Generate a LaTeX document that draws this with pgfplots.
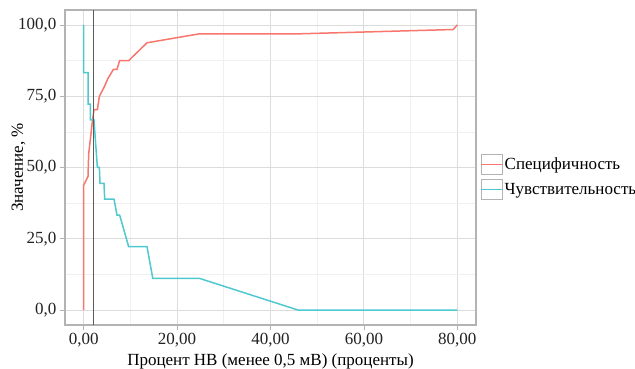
\documentclass[border=0pt]{standalone}
\usepackage{pgfplots}
\pgfplotsset{compat=1.18}
\usepackage{fontspec}
\setmainfont{Liberation Serif}
\definecolor{specc}{HTML}{F8766D}
\definecolor{sensc}{HTML}{4FC8D0}
\definecolor{gridmaj}{HTML}{DCDCDC}
\definecolor{gridmin}{HTML}{F0F0F0}
\definecolor{bordc}{HTML}{B3B3B3}
\definecolor{vlc}{HTML}{5A5A5A}
\definecolor{tickc}{HTML}{222222}
\begin{document}
\begin{tikzpicture}[font=\fontsize{17bp}{20bp}\selectfont]
\path[use as bounding box] (-65bp,-44bp) rectangle (570bp,325bp);
\begin{axis}[
  at={(0,0)}, anchor=south west,
  scale only axis, width=411bp, height=315bp,
  xmin=-4, xmax=84, ymin=-5.25, ymax=105.25,
  axis line style={draw=bordc, line width=1.3bp},
  xtick={0,20,40,60,80}, minor xtick={10,30,50,70},
  ytick={0,25,50,75,100}, minor ytick={12.5,37.5,62.5,87.5},
  xtick pos=bottom, ytick pos=left,
  grid=both,
  major grid style={draw=gridmaj, line width=0.9bp},
  minor grid style={draw=gridmin, line width=0.6bp},
  tick align=outside, major tick length=5bp, minor tick length=0pt,
  tick style={draw=bordc, line width=0.8bp},
  xticklabel style={/pgf/number format/.cd, fixed, fixed zerofill, precision=2, use comma, assume math mode=true},
  yticklabel style={/pgf/number format/.cd, fixed, fixed zerofill, precision=1, use comma, assume math mode=true},
  ticklabel style={text=tickc},
  xlabel={Процент НВ (менее 0,5 мВ) (проценты)},
  ylabel={Значение, \%},
  xlabel style={yshift=1bp},
  ylabel style={yshift=-14bp},
  legend style={at={(rel axis cs:1,0.47)}, anchor=west, draw=none, fill=none, xshift=1bp,
    row sep=4bp, /tikz/every even column/.append style={column sep=2bp}},
  legend cell align=left,
  legend image code/.code={
    \draw[bordc, fill=white, line width=0.7bp] (0bp,-10bp) rectangle (21bp,10bp);
    \draw[#1] (0bp,0bp) -- (21bp,0bp);
  },
]
\addplot[specc, line width=1.5bp] coordinates {
 (0,0) (0,43.8) (0.93,46.9) (1.07,54.7) (1.78,65.0) (2.2,70.3) (2.93,70.3)
 (3.36,75.0) (4.35,78.1) (5.2,81.25) (6.36,84.4) (7.13,84.4) (7.7,87.5)
 (9.64,87.5) (13.56,93.75) (24.8,96.9) (46.3,96.9) (79.1,98.4) (80,100)
};
\addlegendentry{Специфичность}
\addplot[sensc, line width=1.5bp] coordinates {
 (0,100) (0,83.3) (0.93,83.3) (0.93,72.2) (1.43,72.2) (1.43,66.7) (2.2,66.7)
 (2.93,50) (3.36,50) (3.5,44.4) (4.35,44.4) (4.5,38.9) (6.5,38.9) (7.13,33.3)
 (7.7,33.3) (9.64,22.2) (13.56,22.2) (14.8,11.1) (24.8,11.1) (45.9,0) (80,0)
};
\addlegendentry{Чувствительность}
\addplot[vlc, line width=1bp, forget plot] coordinates {(2.2,-5.25) (2.2,105.25)};
\end{axis}
\end{tikzpicture}
\end{document}
